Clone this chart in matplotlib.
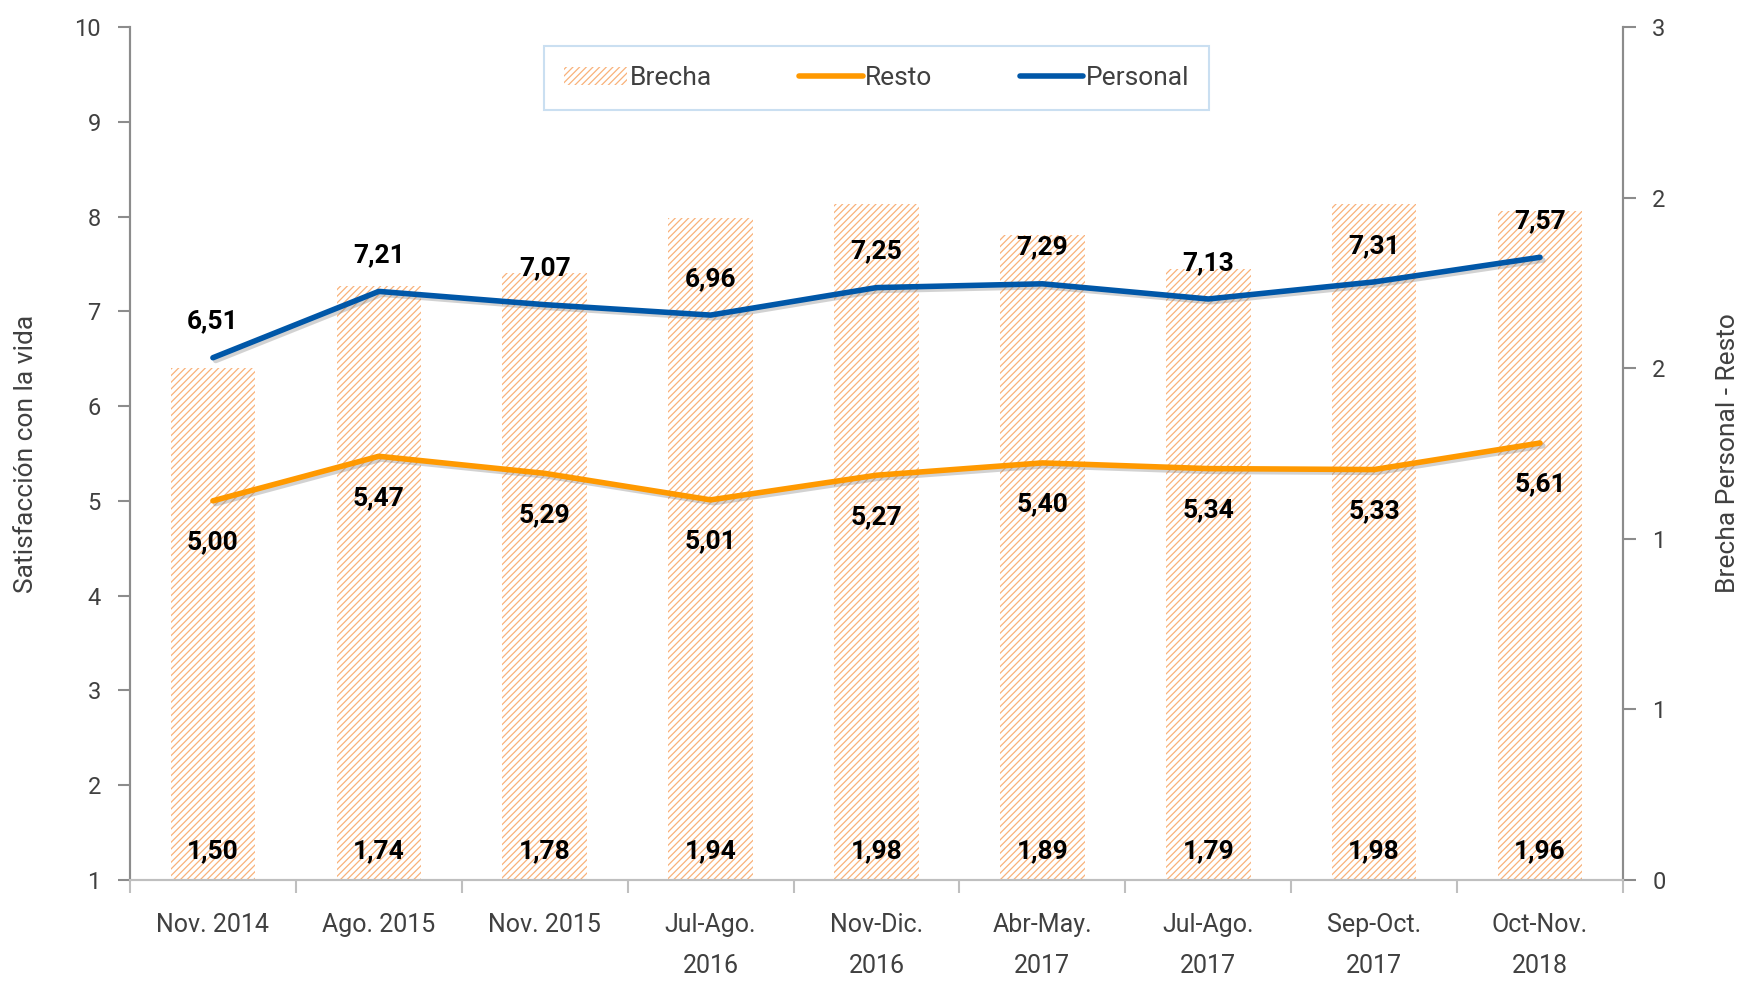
import numpy as np
import matplotlib.pyplot as plt
import matplotlib.patheffects as pe
from matplotlib.patches import Patch
from matplotlib.lines import Line2D

plt.rcParams['font.family'] = ['Roboto', 'DejaVu Sans']
plt.rcParams['hatch.linewidth'] = 0.9

# data
categories = ["Nov. 2014", "Ago. 2015", "Nov. 2015", "Jul-Ago.\n2016", "Nov-Dic.\n2016",
              "Abr-May.\n2017", "Jul-Ago.\n2017", "Sep-Oct.\n2017", "Oct-Nov.\n2018"]
personal = [6.51, 7.21, 7.07, 6.96, 7.25, 7.29, 7.13, 7.31, 7.57]
resto = [5.00, 5.47, 5.29, 5.01, 5.27, 5.40, 5.34, 5.33, 5.61]
brecha = [1.50, 1.74, 1.78, 1.94, 1.98, 1.89, 1.79, 1.98, 1.96]
right_ticks = [0, 0.5, 1.0, 1.5, 2.0, 2.5]
right_labels = ["0", "1", "1", "2", "2", "3"]

blue = "#0057A8"
orange = "#FF9900"
hatch_col = "#F9B27A"
gray = "#8C8C8C"
txt = "#404040"

fig = plt.figure(figsize=(17.47, 9.82), dpi=100)
ax = fig.add_axes([0.0744, 0.104, 0.8546, 0.8685])
ax2 = ax.twinx()

x = np.arange(len(categories))

# bars on the secondary axis, drawn behind the lines
ax2.bar(x, brecha, width=0.51, color="white", edgecolor=hatch_col, hatch="/////", linewidth=0)
ax2.set_ylim(0, 2.5)
ax2.set_yticks(right_ticks)
ax2.set_yticklabels(right_labels)
for i, v in enumerate(brecha):
    ax2.text(i, 0.085, f"{v:.2f}".replace(".", ","), ha="center", va="center",
             fontsize=19, fontweight="bold", color="black")

ax.set_zorder(ax2.get_zorder() + 1)
ax.patch.set_visible(False)

shadow = [pe.SimpleLineShadow(offset=(2, -2), shadow_color="gray", alpha=0.35), pe.Normal()]
ax.plot(x, resto, color=orange, lw=4, solid_capstyle="round", path_effects=shadow)
ax.plot(x, personal, color=blue, lw=4, solid_capstyle="round", path_effects=shadow)

for i, v in enumerate(personal):
    ax.annotate(f"{v:.2f}".replace(".", ","), (i, v), xytext=(0, 26), textcoords="offset points",
                ha="center", va="center", fontsize=19, fontweight="bold", color="black")
for i, v in enumerate(resto):
    ax.annotate(f"{v:.2f}".replace(".", ","), (i, v), xytext=(0, -30), textcoords="offset points",
                ha="center", va="center", fontsize=19, fontweight="bold", color="black")

ax.set_xlim(-0.5, len(categories) - 0.5)
ax.set_ylim(1, 10)
ax.set_yticks(range(1, 11))
ax.set_xticks(x)
ax.set_xticklabels(categories, fontsize=18, color=txt, linespacing=1.9)
ax.set_xticks(np.arange(-0.5, len(categories)), minor=True)
ax.tick_params(axis="x", which="major", length=0, pad=24)
ax.tick_params(axis="x", which="minor", length=9, width=1.5, color="#BFBFBF")

ax.tick_params(axis="y", labelsize=17, labelcolor=txt, length=9, width=1.5, color=gray, pad=12)
ax2.tick_params(axis="y", labelsize=17, labelcolor=txt, length=9, width=1.5, color=gray, pad=12)

for a in (ax, ax2):
    a.spines["top"].set_visible(False)
    a.spines["left"].set_color(gray)
    a.spines["right"].set_color(gray)
    a.spines["left"].set_linewidth(1.5)
    a.spines["right"].set_linewidth(1.5)
    a.spines["bottom"].set_color("#BFBFBF")
    a.spines["bottom"].set_linewidth(1.5)

ax.set_ylabel("Satisfacción con la vida", fontsize=19, color=txt, labelpad=26)
ax2.set_ylabel("Brecha Personal - Resto", fontsize=19, color=txt, labelpad=36)

handles = [Patch(facecolor="white", edgecolor=hatch_col, hatch="/////", linewidth=0),
           Line2D([0], [0], color=orange, lw=4, solid_capstyle="round"),
           Line2D([0], [0], color=blue, lw=4, solid_capstyle="round")]
leg = ax.legend(handles, ["Brecha", "Resto", "Personal"], ncol=3, loc="center",
                bbox_to_anchor=(0.5, 0.94), fontsize=19, frameon=True, fancybox=False,
                edgecolor="#BDD7EE", handlelength=2.4, handletextpad=0.1,
                columnspacing=3.3, borderpad=0.75, borderaxespad=0)
leg.get_frame().set_linewidth(1.5)
for t in leg.get_texts():
    t.set_color(txt)

fig.savefig("out.png", dpi=100)
